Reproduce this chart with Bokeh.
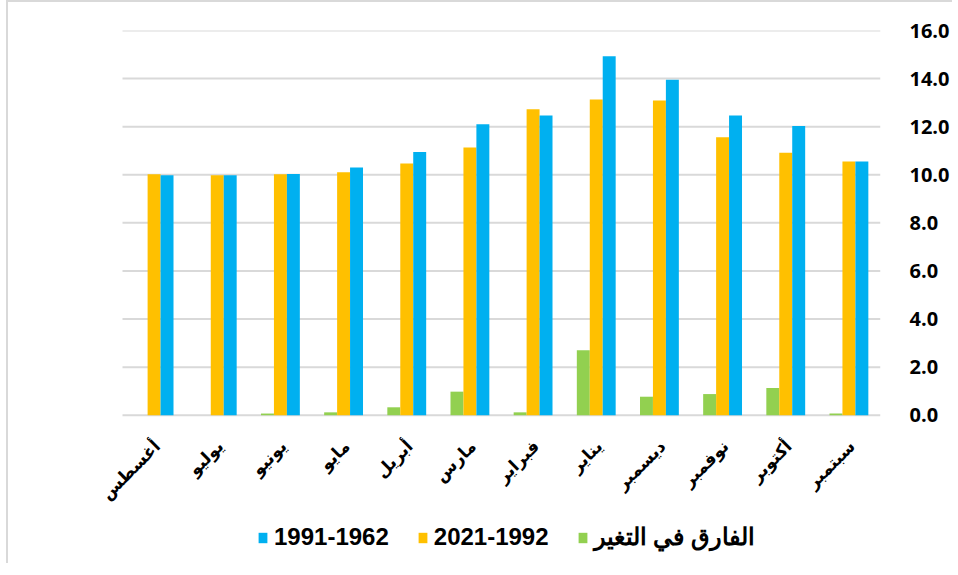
import math
from bokeh.plotting import figure
from bokeh.models import (Range1d, FixedTicker, NumeralTickFormatter,
                          Legend, LegendItem, ColumnDataSource)
from bokeh.core.properties import value
from bokeh.transform import dodge
from bokeh.embed import file_html
from bokeh.resources import INLINE

months = ["أغسطس", "يوليو", "يونيو", "مايو", "أبريل", "مارس",
          "فبراير", "يناير", "ديسمبر", "نوفمبر", "أكتوبر", "سبتمبر"]
diff_change = [0.0, 0.0, 0.07, 0.12, 0.33, 0.98, 0.12, 2.70, 0.77, 0.88, 1.13, 0.07]
period_1992_2021 = [10.02, 9.98, 10.02, 10.10, 10.47, 11.13, 12.73, 13.13, 13.09, 11.56, 10.92, 10.55]
period_1962_1991 = [9.98, 9.98, 10.03, 10.30, 10.95, 12.10, 12.47, 14.93, 13.95, 12.46, 12.03, 10.55]
y_ticks = [0, 2, 4, 6, 8, 10, 12, 14, 16]

label_diff = "الفارق في التغير"
label_1992 = "2021-1992"
label_1962 = "1991-1962"

n = len(months)
idx = list(range(n))
src = ColumnDataSource(dict(i=idx, m=months, d=diff_change, a=period_1992_2021,
                            b=period_1962_1991, base=[0] * n))

# frame extends below zero (labels + legend inside) and a little left of the first category
p = figure(frame_width=788, frame_height=529, x_range=Range1d(-0.975, n - 0.5),
           y_range=Range1d(-6.0, 16),
           y_axis_location="right", output_backend="svg", toolbar_location=None,
           min_border_left=84, min_border_right=68, min_border_top=28, min_border_bottom=4)
p.outline_line_color = None
p.styles = {"border-left": "2px solid #d9d9d9", "border-top": "2px solid #d9d9d9",
            "margin-left": "6px"}

# horizontal gridlines across the category area only
p.segment(x0=-0.5, x1=n - 0.5, y0=y_ticks, y1=y_ticks, line_color="#d9d9d9", line_width=2)

w = 0.205
r_d = p.vbar(x=dodge("i", -w), top="d", width=w, source=src,
             fill_color="#92D050", line_color=None)
r_a = p.vbar(x=dodge("i", 0), top="a", width=w, source=src,
             fill_color="#FFC000", line_color=None)
r_b = p.vbar(x=dodge("i", w), top="b", width=w, source=src,
             fill_color="#00B0F0", line_color=None)

# month labels, rotated like the reference category axis
p.text(x="i", y="base", text="m", source=src, angle=math.pi / 4,
       x_offset=3, y_offset=28, text_align="right", text_baseline="middle",
       text_font=value("DejaVu Sans"), text_font_style="bold",
       text_font_size="17px", text_color="#000000")

p.xaxis.visible = False
p.xgrid.grid_line_color = None
p.ygrid.grid_line_color = None

yax = p.yaxis[0]
yax.ticker = FixedTicker(ticks=y_ticks)
yax.formatter = NumeralTickFormatter(format="0.0")
yax.axis_line_color = None
yax.major_tick_line_color = None
yax.minor_tick_line_color = None
yax.major_label_standoff = 23
yax.major_label_text_font = "Open Sans"
yax.major_label_text_font_style = "bold"
yax.major_label_text_font_size = "20px"
yax.major_label_text_color = "#000000"

legend = Legend(items=[LegendItem(label=label_1962, renderers=[r_b]),
                       LegendItem(label=label_1992, renderers=[r_a]),
                       LegendItem(label=label_diff, renderers=[r_d])],
                orientation="horizontal", location=(165, 8))
legend.border_line_color = None
legend.background_fill_alpha = 0
legend.padding = 0
legend.margin = 0
legend.spacing = 28
legend.glyph_width = 11
legend.glyph_height = 13
legend.label_standoff = 6
legend.label_text_font = "Liberation Sans"
legend.label_text_font_style = "bold"
legend.label_text_font_size = "24px"
legend.label_text_color = "#000000"
p.add_layout(legend, "center")

open("out.html", "w").write(file_html(p, INLINE))
